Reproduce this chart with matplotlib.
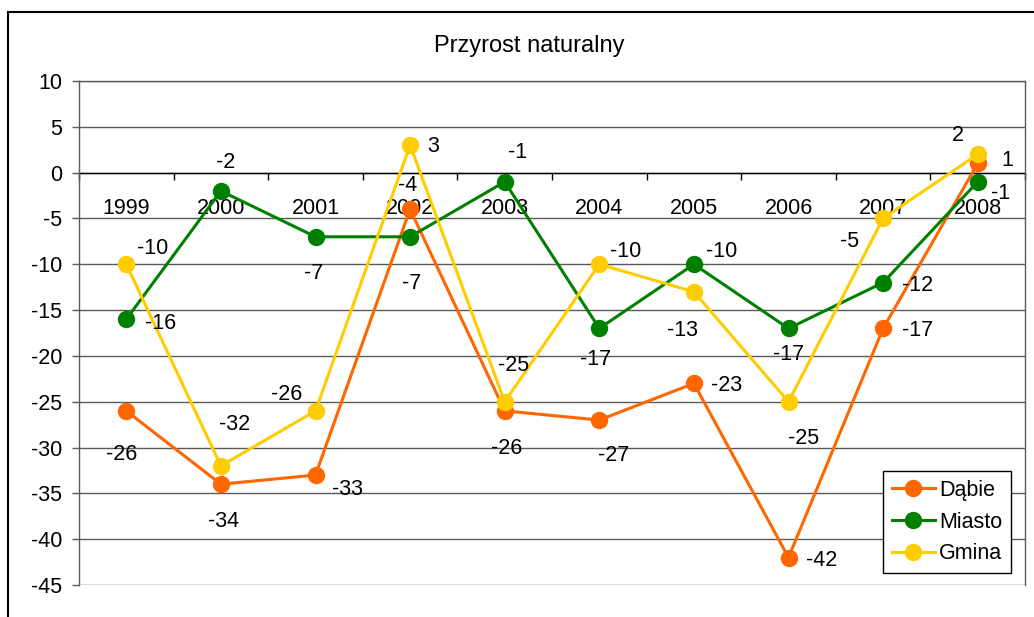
import matplotlib
matplotlib.use("Agg")
import matplotlib.pyplot as plt
from matplotlib.lines import Line2D

plt.rcParams['font.family'] = ['Liberation Sans', 'DejaVu Sans']
plt.rcParams['axes.unicode_minus'] = False

years = ['1999', '2000', '2001', '2002', '2003', '2004', '2005', '2006', '2007', '2008']
dabie = [-26, -34, -33, -4, -26, -27, -23, -42, -17, 1]
miasto = [-16, -2, -7, -7, -1, -17, -10, -17, -12, -1]
gmina = [-10, -32, -26, 3, -25, -10, -13, -25, -5, 2]
series_names = ['Dąbie', 'Miasto', 'Gmina']
y_ticks = list(range(-45, 11, 5))

colors = ['#FF6600', '#008000', '#FFCC00']
# label offsets in pixels (dx, dy up)
offsets = [
    [(-5, -41), (3, -35), (32, -12), (-2, 26), (2, -35), (14, -33), (33, 0), (33, 0), (34, 0), (30, 5)],
    [(34, -2), (5, 31), (-2, -34), (2, -44), (13, 32), (-4, -29), (28, 15), (0, -24), (34, 0), (23, -9)],
    [(26, 18), (14, 44), (-29, 19), (23, 1), (9, 39), (26, 15), (-11, -36), (15, -34), (-34, -21), (-20, 21)],
]

W, H = 1034, 617
fig = plt.figure(figsize=(W / 100, H / 100), dpi=100)
L, R, T, B = 79, 1025, 81, 585
ax = fig.add_axes([L / W, 1 - B / H, (R - L) / W, (B - T) / H])

x = list(range(len(years)))
ax.set_xlim(-0.5, len(years) - 0.5)
ax.set_ylim(-45, 10)

for yv in y_ticks:
    ax.axhline(yv, color='#5a5a5a', lw=1.0, zorder=1)

FS = 15.5
for vals, name, col, offs in zip([dabie, miasto, gmina], series_names, colors, offsets):
    ax.plot(x, vals, color=col, lw=2.2, marker='o', markersize=11.5, label=name, zorder=3,
            solid_joinstyle='miter')
    for xi, v, (dx, dy) in zip(x, vals, offs):
        ax.annotate(str(v), (xi, v), xytext=(dx, dy), textcoords='offset pixels',
                    ha='center', va='center_baseline', fontsize=FS, color='black', zorder=5)

# axis at zero
ax.spines['bottom'].set_position(('data', 0))
ax.spines['bottom'].set_color('black')
ax.spines['bottom'].set_linewidth(1.0)
ax.spines['bottom'].set_zorder(2)
for s in ['top', 'right', 'left']:
    ax.spines[s].set_color('#5a5a5a')
    ax.spines[s].set_linewidth(1.0)

ax.set_xticks([i - 0.5 for i in range(len(years) + 1)])
ax.set_xticklabels([])
ax.set_xticks(x, minor=True)
ax.set_xticklabels(years, minor=True, fontsize=FS)
ax.tick_params(axis='x', which='major', direction='out', length=5, width=1, color='black')
ax.tick_params(axis='x', which='minor', length=0, pad=18.5)

ax.set_yticks(y_ticks)
ax.set_yticklabels([str(v) for v in y_ticks], fontsize=FS)
ax.tick_params(axis='y', direction='out', length=5, width=1, color='#5a5a5a', pad=7)

fig.text(529 / W, 1 - 46 / H, 'Przyrost naturalny', ha='center', va='center', fontsize=17)

leg = ax.legend(loc='lower right', bbox_to_anchor=(1011 / W, 1 - 573 / H),
                bbox_transform=fig.transFigure, fontsize=FS, frameon=True, fancybox=False,
                edgecolor='black', framealpha=1, borderpad=0.4, labelspacing=0.5,
                handlelength=2.0, handletextpad=0.2, borderaxespad=0)
leg.get_frame().set_linewidth(1.0)
for t in leg.get_texts():
    pass

# outer chart frame (partially visible)
fig.add_artist(Line2D([8 / W, 1.0], [1 - 12 / H, 1 - 12 / H], transform=fig.transFigure,
                      color='black', lw=1.5))
fig.add_artist(Line2D([8 / W, 8 / W], [1 - 12 / H, 0.0], transform=fig.transFigure,
                      color='black', lw=1.5))

fig.savefig('out.png', dpi=100, facecolor='white')
